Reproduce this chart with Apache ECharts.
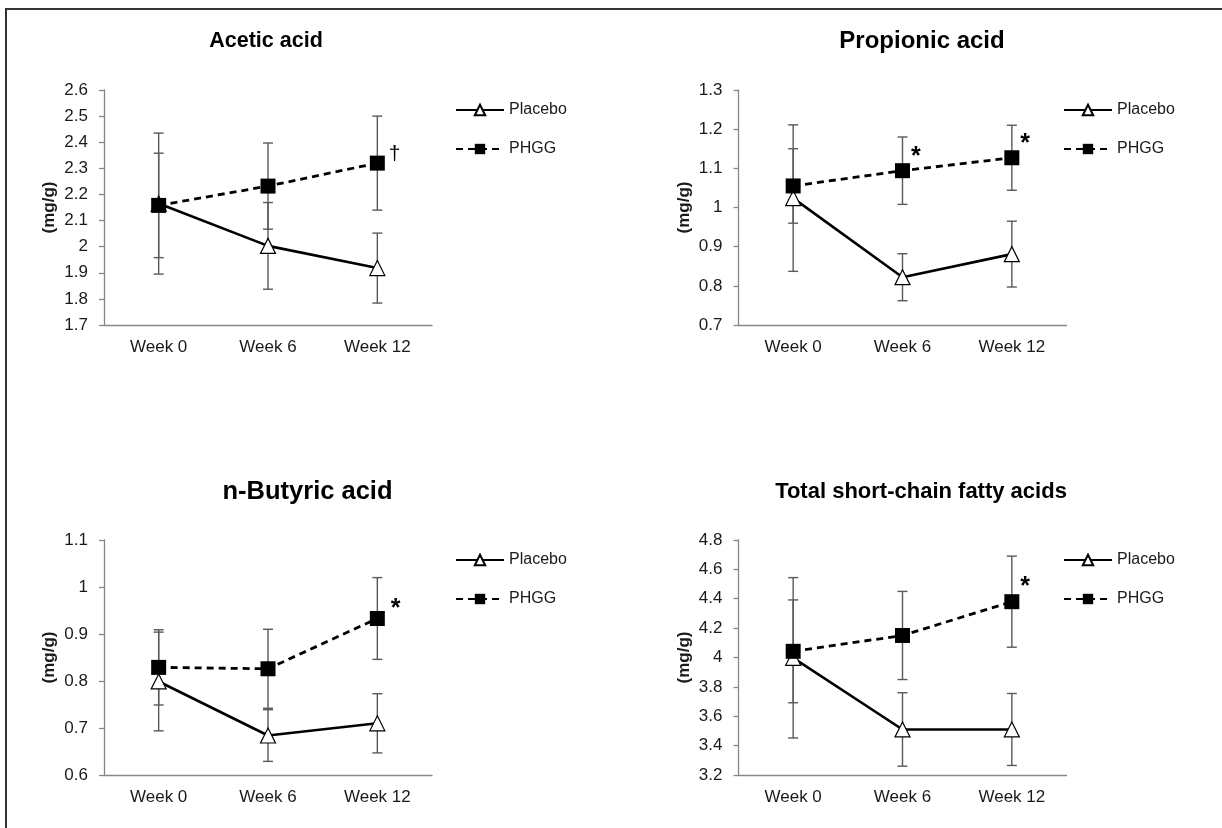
<!DOCTYPE html>
<html>
<head>
<meta charset="utf-8">
<script src="https://cdn.jsdelivr.net/npm/echarts@6/dist/echarts.min.js"></script>
<style>
    html, body {margin: 0; padding: 0; background: #fff;}
    #chart {width: 1222px; height: 828px;}
</style>
</head>
<body>
<div id="chart"></div>
<script>
//  时间点
const weeks = ['Week 0', 'Week 6', 'Week 12'];

//  面板标题
const panelTitles = ['Acetic acid', 'Propionic acid', 'n-Butyric acid', 'Total short-chain fatty acids'];

//  Acetic acid
const aceticPlacebo = [2.165, 2.003, 1.918];
const aceticPlaceboSd = [0.27, 0.166, 0.134];
const aceticPhgg = [2.158, 2.232, 2.32];
const aceticPhggSd = [0.20, 0.165, 0.18];
const aceticMarks = ['', '', '†'];

//  Propionic acid
const propionicPlacebo = [1.024, 0.822, 0.881];
const propionicPlaceboSd = [0.187, 0.06, 0.084];
const propionicPhgg = [1.055, 1.094, 1.127];
const propionicPhggSd = [0.095, 0.086, 0.083];
const propionicMarks = ['', '*', '*'];

//  n-Butyric acid
const butyricPlacebo = [0.799, 0.684, 0.710];
const butyricPlaceboSd = [0.105, 0.055, 0.063];
const butyricPhgg = [0.829, 0.826, 0.933];
const butyricPhggSd = [0.08, 0.084, 0.087];
const butyricMarks = ['', '', '*'];

//  Total SCFA
const totalPlacebo = [3.998, 3.51, 3.51];
const totalPlaceboSd = [0.546, 0.25, 0.245];
const totalPhgg = [4.042, 4.15, 4.38];
const totalPhggSd = [0.35, 0.30, 0.31];
const totalMarks = ['', '', '*'];

//  y轴范围
const yMin = [1.7, 0.7, 0.6, 3.2];
const yMax = [2.6, 1.3, 1.1, 4.8];
const yStep = [0.1, 0.1, 0.1, 0.2];

const panels = [
    [aceticPlacebo, aceticPlaceboSd, aceticPhgg, aceticPhggSd, aceticMarks],
    [propionicPlacebo, propionicPlaceboSd, propionicPhgg, propionicPhggSd, propionicMarks],
    [butyricPlacebo, butyricPlaceboSd, butyricPhgg, butyricPhggSd, butyricMarks],
    [totalPlacebo, totalPlaceboSd, totalPhgg, totalPhggSd, totalMarks],
];

//  布局
const gridPos = [
    {left: 104, top: 90, width: 328, height: 235},
    {left: 738.5, top: 90, width: 328, height: 235},
    {left: 104, top: 540, width: 328, height: 235},
    {left: 738.5, top: 540, width: 328, height: 235},
];
const titlePos = [[266, 41], [922, 41], [307.5, 492], [921, 492]];
const titleSize = [21.5, 24, 25.5, 22];
const legendPos = [[450, 97], [1058, 97], [450, 547], [1058, 547]];
//  显著性标记的位置 [distance, dy]
const markPos = [[4, -9], [1, -14], [6, -9], [1, -15]];

const FONT = '"Liberation Sans", Arial, sans-serif';

//  误差线
function errorBar(params, api) {
    const x = api.value(0), m = api.value(1), s = api.value(2);
    const hi = api.coord([x, m + s]);
    const lo = api.coord([x, m - s]);
    const hw = 5;
    const style = {stroke: '#595959', lineWidth: 1.4};
    return {
        type: 'group',
        children: [
            {type: 'line', shape: {x1: hi[0], y1: hi[1], x2: lo[0], y2: lo[1]}, style: style},
            {type: 'line', shape: {x1: hi[0] - hw, y1: hi[1], x2: hi[0] + hw, y2: hi[1]}, style: style},
            {type: 'line', shape: {x1: lo[0] - hw, y1: lo[1], x2: lo[0] + hw, y2: lo[1]}, style: style},
        ]
    };
}

const grid = [], xAxis = [], yAxis = [], series = [], legend = [], graphic = [];

panels.forEach(function (p, i) {
    const [placebo, placeboSd, phgg, phggSd, marks] = p;
    grid.push(Object.assign({outerBoundsMode: 'none'}, gridPos[i]));
    xAxis.push({
        type: 'category',
        gridIndex: i,
        data: weeks,
        boundaryGap: true,
        axisLine: {lineStyle: {color: '#868686', width: 1.3}},
        axisTick: {show: false},
        axisLabel: {color: '#1a1a1a', fontSize: 17, fontFamily: FONT, margin: 14},
        splitLine: {show: false},
    });
    yAxis.push({
        type: 'value',
        gridIndex: i,
        min: yMin[i],
        max: yMax[i],
        interval: yStep[i],
        name: '(mg/g)',
        nameLocation: 'middle',
        nameGap: 46,
        nameRotate: 90,
        nameTextStyle: {color: '#1a1a1a', fontSize: 17, fontWeight: 'bold', fontFamily: FONT},
        axisLine: {show: true, lineStyle: {color: '#868686', width: 1.3}},
        axisTick: {show: true, length: 5, lineStyle: {color: '#868686', width: 1.3}},
        axisLabel: {color: '#1a1a1a', fontSize: 17, fontFamily: FONT, margin: 16},
        splitLine: {show: false},
    });
    series.push({
        type: 'custom',
        xAxisIndex: i,
        yAxisIndex: i,
        z: 1,
        silent: true,
        renderItem: errorBar,
        encode: {x: 0, y: 1},
        data: placebo.map(function (v, k) { return [k, v, placeboSd[k]]; }),
    }, {
        type: 'custom',
        xAxisIndex: i,
        yAxisIndex: i,
        z: 1,
        silent: true,
        renderItem: errorBar,
        encode: {x: 0, y: 1},
        data: phgg.map(function (v, k) { return [k, v, phggSd[k]]; }),
    }, {
        name: 'Placebo',
        type: 'line',
        xAxisIndex: i,
        yAxisIndex: i,
        z: 3,
        data: placebo,
        symbol: 'triangle',
        symbolSize: 15,
        itemStyle: {color: '#fff', borderColor: '#000', borderWidth: 1.2},
        lineStyle: {color: '#000', width: 2.6, type: 'solid'},
        animation: false,
    }, {
        name: 'PHGG',
        type: 'line',
        xAxisIndex: i,
        yAxisIndex: i,
        z: 4,
        data: phgg.map(function (v, k) {
            const star = marks[k] === '*';
            return {
                value: v,
                label: {
                    show: marks[k] !== '',
                    formatter: marks[k],
                    position: 'right',
                    distance: markPos[i][0],
                    offset: [0, markPos[i][1]],
                    color: '#000',
                    fontSize: star ? 25 : 21,
                    fontWeight: star ? 'bold' : 'normal',
                    fontFamily: FONT,
                },
            };
        }),
        symbol: 'rect',
        symbolSize: 15,
        itemStyle: {color: '#000', borderColor: '#000', borderWidth: 0},
        lineStyle: {color: '#000', width: 2.8, type: [7, 5]},
        animation: false,
    });
    legend.push({
        data: ['Placebo', 'PHGG'],
        orient: 'vertical',
        left: legendPos[i][0],
        top: legendPos[i][1],
        itemWidth: 48,
        itemHeight: 13,
        itemGap: 23,
        selectedMode: false,
        textStyle: {color: '#1a1a1a', fontSize: 16, fontFamily: FONT},
    });
    graphic.push({
        type: 'text',
        x: titlePos[i][0],
        y: titlePos[i][1],
        style: {
            text: panelTitles[i],
            fill: '#000',
            font: 'bold ' + titleSize[i] + 'px ' + FONT,
            textAlign: 'center',
            textVerticalAlign: 'middle',
        },
    });
});

//  外框
graphic.push({
    type: 'polyline',
    shape: {points: [[6, 828], [6, 9], [1222, 9]]},
    style: {stroke: '#333', lineWidth: 2, fill: null},
});

const myChart = echarts.init(document.getElementById('chart'), null, {renderer: 'canvas'});
myChart.setOption({
    backgroundColor: '#fff',
    animation: false,
    grid: grid,
    xAxis: xAxis,
    yAxis: yAxis,
    legend: legend,
    graphic: graphic,
    series: series,
});
</script>
</body>
</html>
